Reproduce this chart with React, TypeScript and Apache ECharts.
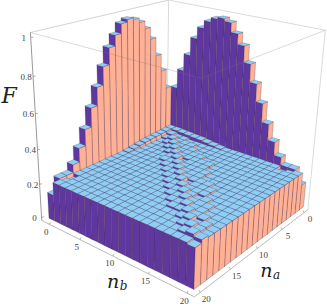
import React, { useEffect, useRef } from "react";
import * as echarts from "echarts";

const naTicks = [0, 5, 10, 15, 20];
const nbTicks = [0, 5, 10, 15, 20];
const fTicks = ["0", "0.2", "0.4", "0.6", "0.8", "1"];
const fTickValues = [0, 0.2, 0.4, 0.6, 0.8, 1];

// plateau, terrace and diagonal levels
const p = 0.23, t = 0.24, d = 0.25, e = 0.222;
// F by row: index = nb, position in a row = na
const row00 = [.42,.515,.635,.74,.85,.92,.965,.99,1.0,.985,.93,.87,.775,.67,.565,.455,.36,.28,.235,.235,.155];
const row01 = [.515,.26,.26,.257,.255,.252,.25,.245,.24,.235,p,p,p,p,p,p,p,p,.21,.22,p];
const row02 = [.635,.26,d,t,p,p,p,p,p,p,p,p,p,p,p,p,p,p,p,p,p];
const row03 = [.74,.257,t,d,t,p,p,p,p,p,p,p,p,p,p,p,p,p,p,p,p];
const row04 = [.85,.255,t,t,d,t,p,p,p,p,p,p,p,p,p,p,p,p,p,p,p];
const row05 = [.92,.252,p,t,t,d,t,p,p,p,p,p,p,p,p,p,p,p,p,p,p];
const row06 = [.965,.25,p,t,t,t,d,t,t,p,p,p,p,p,p,p,p,p,p,p,p];
const row07 = [.99,.245,p,p,t,t,t,d,t,t,p,p,p,p,p,p,p,p,p,p,p];
const row08 = [1.0,.24,p,p,p,t,t,p,d,t,t,p,p,p,p,p,p,p,p,p,p];
const row09 = [.985,.235,p,p,p,t,t,t,t,d,t,t,p,p,p,p,p,p,p,p,p];
const row10 = [.93,p,p,p,p,p,t,t,t,t,d,t,t,p,p,p,p,p,p,p,p];
const row11 = [.87,p,p,p,p,p,t,t,t,t,t,d,t,t,p,p,p,p,p,p,p];
const row12 = [.775,p,p,p,p,p,p,p,t,t,t,p,d,t,t,p,p,p,p,p,p];
const row13 = [.67,p,p,p,p,p,p,p,p,p,t,t,t,d,t,t,p,p,p,p,p];
const row14 = [.565,p,p,p,p,p,p,p,p,p,t,t,t,t,d,t,t,p,p,p,p];
const row15 = [.455,p,p,p,p,p,p,p,p,p,p,t,t,p,t,d,t,p,p,p,p];
const row16 = [.36,p,p,p,p,p,p,p,p,p,p,p,p,t,t,t,d,t,p,p,p];
const row17 = [.28,p,p,p,p,p,p,p,p,p,p,p,p,p,t,t,t,d,t,p,p];
const row18 = [.235,.21,p,p,p,p,p,p,p,p,p,p,p,p,p,p,t,p,d,t,p];
const row19 = [.235,.22,p,p,p,p,p,p,p,p,p,p,p,p,p,p,p,t,t,d,p];
const row20 = [.155,p,p,p,p,p,p,p,p,p,p,p,p,p,p,p,p,p,p,t,e];
const rows = [row00,row01,row02,row03,row04,row05,row06,row07,row08,row09,row10,row11,row12,row13,row14,row15,row16,row17,row18,row19,row20];

const LOA = -0.9, LOB = -1.3, HI = 20.9, ZL = -0.02, ZH = 1.025, BAR_Z0 = 0;
// camera calibration: box corner -> picture position
const cameraPoints: number[][] = [
  [LOA, LOB, ZH, 168, 0],
  [HI, LOB, ZH, 31, 32],
  [LOA, HI, ZH, 326, 31],
  [HI, HI, ZH, 201, 78],
  [HI, LOB, ZL, 42, 221],
  [LOA, HI, ZL, 308, 209],
  [HI, HI, ZL, 194, 297],
];

function solveCamera(pts: number[][]) {
  const A: number[][] = [];
  const b: number[] = [];
  for (const [x, y, z, u, v] of pts) {
    const X = x / 20, Y = y / 20;
    A.push([X, Y, z, 1, 0, 0, 0, 0, -u * X, -u * Y, -u * z]); b.push(u);
    A.push([0, 0, 0, 0, X, Y, z, 1, -v * X, -v * Y, -v * z]); b.push(v);
  }
  const n = 11;
  const M = Array.from({ length: n }, (_, i) => {
    const r = new Array(n + 1).fill(0);
    for (let j = 0; j < n; j++) for (let k = 0; k < A.length; k++) r[j] += A[k][i] * A[k][j];
    for (let k = 0; k < A.length; k++) r[n] += A[k][i] * b[k];
    return r;
  });
  for (let c = 0; c < n; c++) {
    let q = c;
    for (let r = c + 1; r < n; r++) if (Math.abs(M[r][c]) > Math.abs(M[q][c])) q = r;
    [M[c], M[q]] = [M[q], M[c]];
    for (let r = 0; r < n; r++) {
      if (r === c) continue;
      const f = M[r][c] / M[c][c];
      for (let k = c; k <= n; k++) M[r][k] -= f * M[c][k];
    }
  }
  return M.map((r, i) => r[n] / r[i]);
}
const P = solveCamera(cameraPoints);
function project(na: number, nb: number, z: number): number[] {
  const X = na / 20, Y = nb / 20;
  const w = P[8] * X + P[9] * Y + P[10] * z + 1;
  return [(P[0] * X + P[1] * Y + P[2] * z + P[3]) / w, (P[4] * X + P[5] * Y + P[6] * z + P[7]) / w];
}

const BLUE = "#8fcdf5", SALMON = "#ffb095", PURPLE = "#5f379f", EDGE = "rgba(55,50,75,0.5)";
const barData: number[][] = [];
for (let na = 0; na <= 20; na++) for (let nb = 0; nb <= 20; nb++) barData.push([na, nb, rows[nb][na]]);

function renderBar(_: any, api: any) {
  const na = api.value(0), nb = api.value(1), f = api.value(2);
  const a0 = na - 0.5, a1 = na + 0.5, b0 = nb - 0.5, b1 = nb + 0.5;
  const poly = (pts: number[][], fill: string) => ({
    type: "polygon",
    shape: { points: pts },
    style: { fill, stroke: EDGE, lineWidth: 0.5 },
  });
  return {
    type: "group",
    children: [
      poly([project(a1, b0, BAR_Z0), project(a1, b1, BAR_Z0), project(a1, b1, f), project(a1, b0, f)], PURPLE),
      poly([project(a0, b1, BAR_Z0), project(a1, b1, BAR_Z0), project(a1, b1, f), project(a0, b1, f)], SALMON),
      poly([project(a0, b0, f), project(a1, b0, f), project(a1, b1, f), project(a0, b1, f)], BLUE),
    ],
  };
}

function edge(a: number[], b: number[], stroke: string, z: number, w = 0.8) {
  return { type: "line", z, silent: true, shape: { x1: a[0], y1: a[1], x2: b[0], y2: b[1] }, style: { stroke, lineWidth: w } };
}
function label(text: string, x: number, y: number, extra: any = {}) {
  return {
    type: "text", z: 20, x, y, silent: true,
    style: { text, fontFamily: "Liberation Serif", fontSize: 9, fill: "#444", align: "center", verticalAlign: "middle", ...extra },
  };
}

function buildOption() {
  const g: any[] = [];
  const L = "#d0d0d0", D = "#9a9a9a", F = "rgba(120,120,120,0.35)";
  // back edges, behind the bars
  g.push(edge(project(LOA, LOB, ZH), project(HI, LOB, ZH), "#c8c8c8", 0));
  g.push(edge(project(LOA, LOB, ZH), project(LOA, HI, ZH), L, 0));
  g.push(edge(project(LOA, LOB, ZH), project(LOA, LOB, ZL), L, 0));
  g.push(edge(project(LOA, HI, ZH), project(LOA, HI, ZL), L, 0));
  g.push(edge(project(HI, LOB, ZH), project(HI, LOB, ZL), D, 0, 1));
  g.push(edge(project(HI, LOB, ZL), project(HI, HI, ZL), "#a8a8a8", 0));
  g.push(edge(project(LOA, HI, ZL), project(HI, HI, ZL), "#a8a8a8", 0));
  // upper near edges, faint over the bars
  g.push(edge(project(HI, LOB, ZH), project(HI, HI, ZH), F, 15));
  g.push(edge(project(LOA, HI, ZH), project(HI, HI, ZH), F, 15));
  // F ticks
  fTickValues.forEach((v, i) => {
    const q = project(HI, LOB, v);
    g.push(edge(q, [q[0] + 2.5, q[1] - 0.3], D, 0));
    g.push(label(fTicks[i], q[0] - 7, q[1] + 0.5));
  });
  nbTicks.forEach((v) => {
    const q = project(HI, v, ZL);
    g.push(edge(q, [q[0] + 1, q[1] - 2], D, 0));
    g.push(label(String(v), q[0] - 3, q[1] + 7.5));
  });
  naTicks.forEach((v) => {
    const q = project(v, HI, ZL);
    g.push(edge(q, [q[0] - 1, q[1] - 2], D, 0));
    g.push(label(String(v), q[0] + 6, q[1] + 6.5));
  });
  const big = { fontFamily: "DejaVu Serif", fontSize: 19, fontStyle: "italic", fill: "#222" };
  g.push(label("F", 9, 95.4, { ...big, fontSize: 22 }));
  g.push(label("n", 113, 280.5, { ...big }));
  g.push(label("b", 123.5, 286, { ...big, fontSize: 12 }));
  g.push(label("n", 266.4, 270, { ...big }));
  g.push(label("a", 276.5, 275, { ...big, fontSize: 12 }));
  return {
    animation: false,
    graphic: { elements: g },
    series: [{
      type: "custom", coordinateSystem: "none", z: 5, silent: true,
      renderItem: renderBar, data: barData, clip: false,
    }],
  };
}

export default function App() {
  const ref = useRef<HTMLDivElement>(null);
  useEffect(() => {
    const chart = echarts.init(ref.current!, undefined, { renderer: "svg" });
    chart.setOption(buildOption() as any);
    return () => chart.dispose();
  }, []);
  return <div ref={ref} style={{ position: "absolute", left: 0, top: 0, width: 327, height: 308, background: "#fff" }} />;
}
